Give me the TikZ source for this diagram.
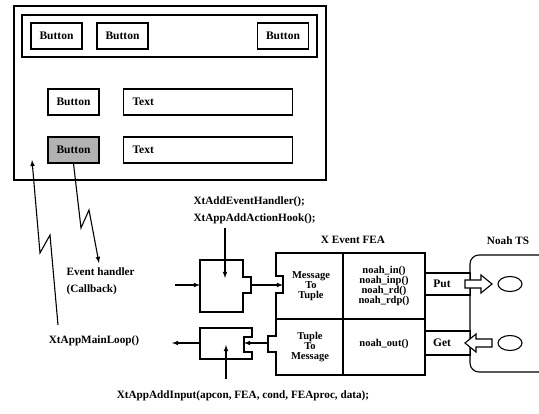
\documentclass[tikz,border=0pt]{standalone}
\usepackage{fontspec}
\setmainfont{Liberation Serif}
\usetikzlibrary{calc}

\begin{document}
\begin{tikzpicture}[x=1pt,y=-1pt,line width=1.1pt,
    box/.style={draw,inner sep=0pt,font=\bfseries\fontsize{11.5}{11.5}\selectfont},
    btn/.style={box,minimum width=51pt,minimum height=26pt},
    txtbox/.style={box,anchor=west,inner xsep=9pt,text width=151pt,minimum height=26pt,align=left},
    lbl/.style={inner sep=0pt,align=left,font=\bfseries\fontsize{11.2}{17}\selectfont},
    cell/.style={inner sep=0pt,align=center,font=\bfseries\fontsize{10.5}{10}\selectfont},
    arr/.style={-latex}]
  \useasboundingbox (0,0) rectangle (539,414);

  % the X window
  \draw[line width=1.3pt] (14,6) rectangle (326,180);
  \draw (22,15) rectangle (317,57);
  \foreach \x/\n in {56.5/b1,122.5/b2,283/b3} {
    \node[btn] (\n) at (\x,36) {Button};
  }
  \node[btn] (b4) at (73.5,102) {Button};
  \node[btn,fill=black!30] (b5) at (73.5,150) {Button};
  \node[txtbox] (t1) at (123,102) {Text};
  \node[txtbox] (t2) at (123,150) {Text};

  % labels
  \node[lbl,anchor=north west] (evh) at (66,267) {Event handler\\(Callback)};
  \node[lbl,anchor=north] (loop) at (94,335) {XtAppMainLoop()};
  \node[lbl,anchor=north west] (hook) at (193,196) {XtAddEventHandler();\\XtAppAddActionHook();};
  \node[lbl,anchor=north] (input) at (243,390) {XtAppAddInput(apcon, FEA, cond, FEAproc, data);};
  \node[lbl,anchor=north] (fea) at (353,236) {X Event FEA};
  \node[lbl,anchor=north] (ts) at (508,236) {Noah TS};

  % zigzag connectors
  \coordinate (hit) at (32,160);
  \coordinate (loopend) at (58,325);
  \draw[arr] (loopend) -- (50,235) -- (40,253) -- (hit);
  \draw[arr] (b5.south) -- (81,228) -- (89,210) -- (99,263);

  % upper handler
  \draw (200,260) -- (243,260) -- (243,277) -- (251,277) -- (251,293)
    -- (243,293) -- (243,312) -- (200,312) -- cycle;
  \coordinate (inA) at (200,285);
  \coordinate (outA) at (251,285);
  \coordinate (srcA) at (175,285);
  \coordinate (topA) at (225,278);
  \draw[arr] (srcA) -- (inA);
  \draw[arr] (225,228) -- (topA);

  % lower handler
  \draw (200,328) -- (252,328) -- (252,337) -- (244,337) -- (244,352)
    -- (252,352) -- (252,359) -- (200,359) -- cycle;
  \coordinate (inB) at (244,343);
  \coordinate (outB) at (200,343);
  \coordinate (dstB) at (172,343);
  \coordinate (botB) at (226,345);
  \draw[arr] (outB) -- (dstB);
  \draw[arr] (226,379) -- (botB);

  % the FEA
  \draw (276,253) -- (425,253) -- (425,375) -- (276,375) -- (276,352)
    -- (268,352) -- (268,336) -- (276,336) -- (276,293) -- (283,293)
    -- (283,276) -- (276,276) -- cycle;
  \draw (343,253) -- (343,375);
  \draw (276,319) -- (425,319);
  \coordinate (inF) at (283,285);
  \coordinate (outF) at (268,343);
  \draw[arr] (outA) -- (inF);
  \draw[arr] (outF) -- (inB);
  \node[cell] (m2t) at (311,286) {Message\\To\\Tuple};
  \node[cell] (ops) at (384,286) {noah\_in()\\noah\_inp()\\noah\_rd()\\noah\_rdp()};
  \node[cell] (t2m) at (310,347) {Tuple\\To\\Message};
  \node[cell] (out) at (384,344) {noah\_out()};

  % Noah TS
  \draw[rounded corners=9pt] (539,255) -- (470,255) -- (470,372) -- (539,372);
  \node[box,minimum width=45pt,minimum height=22pt,anchor=west] (put) at (425,284) {Put\hspace*{12pt}};
  \node[box,minimum width=45pt,minimum height=24pt,anchor=west] (get) at (425,343) {Get\hspace*{12pt}};
  \draw[fill=white] (465,280) -- (481,280) -- (481,275) -- (492,284) -- (481,293)
    -- (481,288) -- (465,288) -- cycle;
  \draw[fill=white] (492,339) -- (476,339) -- (476,334) -- (465,343) -- (476,352)
    -- (476,347) -- (492,347) -- cycle;
  \draw (510,284) ellipse [x radius=12pt,y radius=7.5pt];
  \draw (510,343) ellipse [x radius=12pt,y radius=7.5pt];
\end{tikzpicture}
\end{document}
